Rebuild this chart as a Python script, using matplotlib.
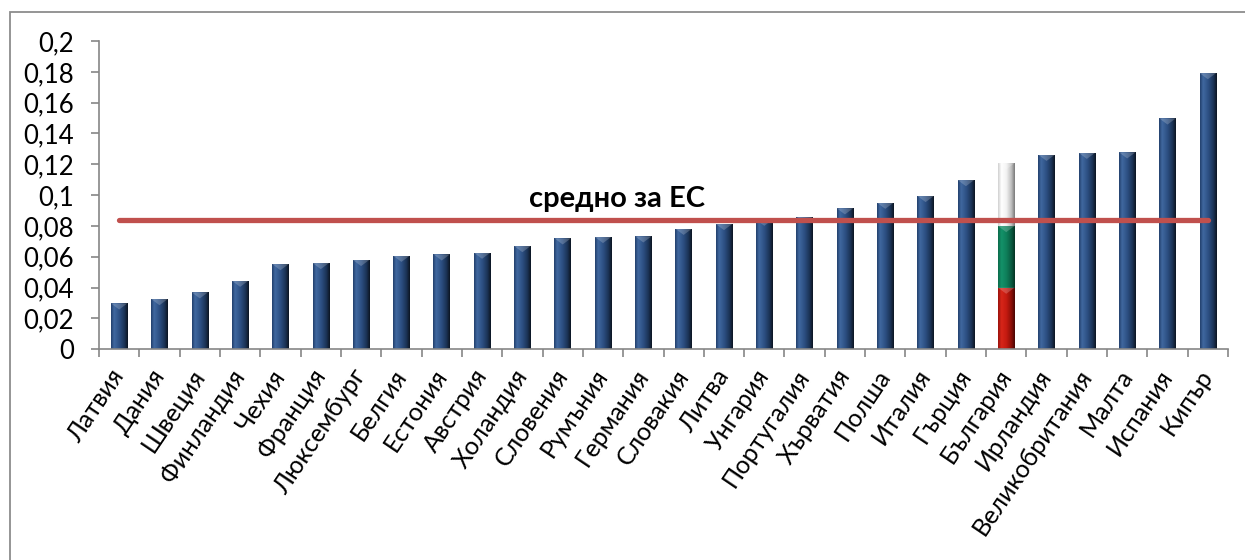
import matplotlib
matplotlib.use("Agg")
import matplotlib.pyplot as plt
import numpy as np
from matplotlib.colors import LinearSegmentedColormap
from matplotlib.patches import Rectangle

countries = ["Латвия", "Дания", "Швеция", "Финландия", "Чехия", "Франция",
             "Люксембург", "Белгия", "Естония", "Австрия", "Холандия", "Словения",
             "Румъния", "Германия", "Словакия", "Литва", "Унгария", "Португалия",
             "Хърватия", "Полша", "Италия", "Гърция", "България", "Ирландия",
             "Великобритания", "Малта", "Испания", "Кипър"]
values = [0.0298, 0.0326, 0.0370, 0.0445, 0.0553, 0.0560, 0.0580, 0.0607,
          0.0616, 0.0627, 0.0670, 0.0720, 0.0729, 0.0733, 0.0782, 0.0813,
          0.0841, 0.0860, 0.0915, 0.0951, 0.0995, 0.1098, 0.1207, 0.1262,
          0.1275, 0.1278, 0.1498, 0.1792]
highlight = "България"
flag_parts = [0.040, 0.040, 0.0407]   # red, green, white segments of the Bulgarian bar
eu_average = 0.084
eu_label = "средно за ЕС"
yticks = [0, 0.02, 0.04, 0.06, 0.08, 0.1, 0.12, 0.14, 0.16, 0.18, 0.2]
ytick_labels = ["0", "0,02", "0,04", "0,06", "0,08", "0,1", "0,12", "0,14", "0,16", "0,18", "0,2"]

plt.rcParams['font.family'] = ['Lato', 'DejaVu Sans']

fig = plt.figure(figsize=(12.45, 5.6), dpi=100)
W, H = 1245, 560
ax = fig.add_axes([99 / W, 1 - 349.3 / H, (1228 - 99) / W, (349.3 - 41) / H])

# outer chart frame (only top and left visible in the crop)
fig.add_artist(Rectangle((10 / W, -0.1), 1.2, 1 - 11.5 / H + 0.1, transform=fig.transFigure,
                         fill=False, edgecolor="#8c8c8c", linewidth=1.3))

x = np.arange(len(countries))
bw = 0.41
blue_cmap = LinearSegmentedColormap.from_list(
    "b", [(0, "#22406c"), (0.18, "#4068a0"), (0.5, "#2c4f82"), (0.8, "#1b3356"), (1, "#0c1522")])
red_cmap = LinearSegmentedColormap.from_list(
    "r", [(0, "#9a120c"), (0.2, "#d8261a"), (0.5, "#c41a10"), (0.8, "#8a0f08"), (1, "#4a0604")])
green_cmap = LinearSegmentedColormap.from_list(
    "g", [(0, "#0b6a4a"), (0.2, "#14926a"), (0.5, "#0e7f5a"), (0.8, "#0a5a40"), (1, "#053323")])
white_cmap = LinearSegmentedColormap.from_list(
    "w", [(0, "#d0d0d0"), (0.2, "#ffffff"), (0.5, "#f2f2f2"), (0.8, "#bdbdbd"), (1, "#7a7a7a")])

grad = np.linspace(0, 1, 64).reshape(1, -1)

def shade(patch, cmap):
    x0, y0 = patch.get_x(), patch.get_y()
    w, h = patch.get_width(), patch.get_height()
    im = ax.imshow(grad, cmap=cmap, aspect="auto", extent=(x0, x0 + w, y0, y0 + h),
                   zorder=patch.get_zorder() + 0.1, interpolation="bilinear")
    im.set_clip_path(patch)
    th = 0.004
    if h > th:
        tri = plt.Polygon([(x0, y0 + h), (x0 + w, y0 + h), (x0 + w / 2, y0 + h - th)],
                          closed=True, facecolor="white", alpha=0.2, edgecolor="none",
                          zorder=patch.get_zorder() + 0.2)
        ax.add_patch(tri)

for i, (c, v) in enumerate(zip(countries, values)):
    if c == highlight:
        bottom = 0
        for part, cm in zip(flag_parts, [red_cmap, green_cmap, white_cmap]):
            b = ax.bar(x[i], part, width=bw, bottom=bottom, color="none", zorder=2)[0]
            shade(b, cm)
            bottom += part
    else:
        b = ax.bar(x[i], v, width=bw, color="none", zorder=2)[0]
        shade(b, blue_cmap)

ax.plot([x[0], x[-1]], [eu_average, eu_average], color="#c0504d", linewidth=3.8,
        solid_capstyle="round", zorder=3)
ax.text(12.35, eu_average + 0.005, eu_label, ha="center", va="bottom",
        fontsize=21, fontweight="bold", zorder=4)

ax.set_xlim(-0.5, len(countries) - 0.5)
ax.set_ylim(0, 0.2)
for s in ["top", "right"]:
    ax.spines[s].set_visible(False)
for s in ["left", "bottom"]:
    ax.spines[s].set_color("#868686")
    ax.spines[s].set_linewidth(1.2)

ax.set_yticks(yticks)
ax.set_yticklabels(ytick_labels)
ax.tick_params(axis="y", length=6, width=1.2, color="#868686", labelsize=18.5, pad=12)

ax.set_xticks(np.arange(len(countries) + 1) - 0.5, minor=False)
ax.set_xticklabels([])
ax.tick_params(axis="x", which="major", length=6, width=1.2, color="#868686")
ax.set_xticks(x, minor=True)
ax.set_xticklabels(countries, minor=True, rotation=56, ha="right", va="center",
                   rotation_mode="anchor", fontsize=18)
ax.tick_params(axis="x", which="minor", length=0, pad=16)

fig.savefig("out.png", dpi=100, facecolor="white")
